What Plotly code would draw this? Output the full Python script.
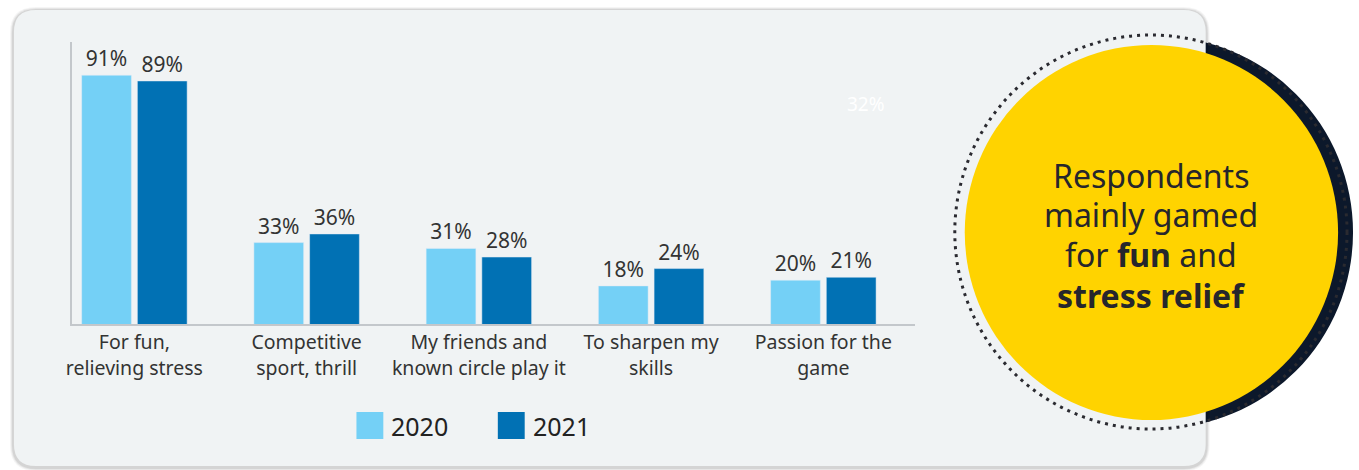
import plotly.graph_objects as go

categories = ["For fun,<br>relieving stress", "Competitive<br>sport, thrill",
              "My friends and<br>known circle play it", "To sharpen my<br>skills",
              "Passion for the<br>game"]
series_names = ["2020", "2021"]
values_2020 = [91, 33, 31, 18, 20]
values_2021 = [89, 36, 28, 24, 21]
callout_lines = ["Respondents", "mainly gamed", "for <b>fun</b> and", "<b>stress relief</b>"]
ghost_label = "32%"

W, H = 1359, 470
def px(x): return x / W
def py(y): return 1 - y / H

C2020 = "#74D0F6"
C2021 = "#0171B4"
TXT = "#333333"
FONT = "Noto Sans"

fig = go.Figure()
fig.add_trace(go.Bar(x=categories, y=values_2020, name=series_names[0], marker_color=C2020,
                     texttemplate="%{y}%", textposition="outside", cliponaxis=False,
                     textfont=dict(size=21, color=TXT, family=FONT)))
fig.add_trace(go.Bar(x=categories, y=values_2021, name=series_names[1], marker_color=C2021,
                     texttemplate="%{y}%", textposition="outside", cliponaxis=False,
                     textfont=dict(size=21, color=TXT, family=FONT)))

shapes = []
# navy ring (behind panel)
cx, cy, r = 1157, 232.5, 196
shapes.append(dict(type="circle", xref="paper", yref="paper", layer="below",
                   x0=px(cx - r), x1=px(cx + r), y0=py(cy + r), y1=py(cy - r),
                   fillcolor="#0C182B", line=dict(width=0)))
def rrect(x0, y0, x1, y1, rad):
    return (f"M {px(x0+rad)} {py(y0)} L {px(x1-rad)} {py(y0)} Q {px(x1)} {py(y0)} {px(x1)} {py(y0+rad)} "
            f"L {px(x1)} {py(y1-rad)} Q {px(x1)} {py(y1)} {px(x1-rad)} {py(y1)} "
            f"L {px(x0+rad)} {py(y1)} Q {px(x0)} {py(y1)} {px(x0)} {py(y1-rad)} "
            f"L {px(x0)} {py(y0+rad)} Q {px(x0)} {py(y0)} {px(x0+rad)} {py(y0)} Z")
for i, op in enumerate([0.04, 0.06, 0.08]):
    g = 4 - i
    shapes.append(dict(type="path", xref="paper", yref="paper", layer="below",
                       path=rrect(8 - g, 10 - g + 1, 1205 + g, 467 + g, 22 + g),
                       fillcolor=f"rgba(0,0,0,{op})", line=dict(width=0)))
shapes.append(dict(type="path", xref="paper", yref="paper", layer="below",
                   path=rrect(8, 10, 1205, 466, 22), fillcolor="#F0F3F4", line=dict(width=0)))
# dotted circle
cx2, cy2, r2 = 1150, 232, 197
shapes.append(dict(type="circle", xref="paper", yref="paper", layer="below",
                   x0=px(cx2 - r2), x1=px(cx2 + r2), y0=py(cy2 + r2), y1=py(cy2 - r2),
                   fillcolor="rgba(0,0,0,0)", line=dict(width=3, color="#2A2A30", dash="3px,5px")))
# yellow circle
cx3, cy3, r3 = 1150.5, 232.5, 187.5
shapes.append(dict(type="circle", xref="paper", yref="paper", layer="below",
                   x0=px(cx3 - r3), x1=px(cx3 + r3), y0=py(cy3 + r3), y1=py(cy3 - r3),
                   fillcolor="#FFD300", line=dict(width=0)))
# custom legend squares
for x0, col in [(352, C2020), (494, C2021)]:
    shapes.append(dict(type="rect", xref="paper", yref="paper",
                       x0=px(x0), x1=px(x0 + 27), y0=py(439), y1=py(412),
                       fillcolor=col, line=dict(width=0)))

annotations = []
for xt, name in [(385, series_names[0]), (527, series_names[1])]:
    annotations.append(dict(xref="paper", yref="paper", x=px(xt), y=py(426), text=name,
                            showarrow=False, xanchor="left", yanchor="middle",
                            font=dict(size=25, color="#222222", family=FONT)))
for i, line in enumerate(callout_lines):
    annotations.append(dict(xref="paper", yref="paper", x=px(1150), y=py(175 + 40 * i),
                            text=line, showarrow=False, xanchor="center", yanchor="middle",
                            font=dict(size=32, color="#26262C", family=FONT)))
annotations.append(dict(xref="paper", yref="paper", x=px(864), y=py(104), text=ghost_label,
                        showarrow=False, xanchor="center", yanchor="middle",
                        font=dict(size=19, color="#FFFFFF", family=FONT)))

fig.update_layout(
    width=W, height=H, margin=dict(l=0, r=0, t=0, b=0),
    paper_bgcolor="#FFFFFF", plot_bgcolor="rgba(0,0,0,0)",
    barmode="group", bargap=0.353, bargroupgap=0.107,
    showlegend=False, shapes=shapes, annotations=annotations,
    font=dict(family=FONT, color=TXT),
    xaxis=dict(domain=[px(66), px(913)], range=[-0.364, 4.532], showline=True,
               linecolor="#C3C7CB", linewidth=2, ticks="", showgrid=False,
               tickfont=dict(size=19.5, color=TXT, family=FONT)),
    yaxis=dict(domain=[py(324), py(42)], range=[4.8, 102.5], showline=True,
               linecolor="#C3C7CB", linewidth=2, showticklabels=False, ticks="",
               showgrid=False, zeroline=False),
)
fig.write_html("out.html", config={"displayModeBar": False},
               post_script="document.body.style.margin='0';document.body.style.overflow='hidden';")
